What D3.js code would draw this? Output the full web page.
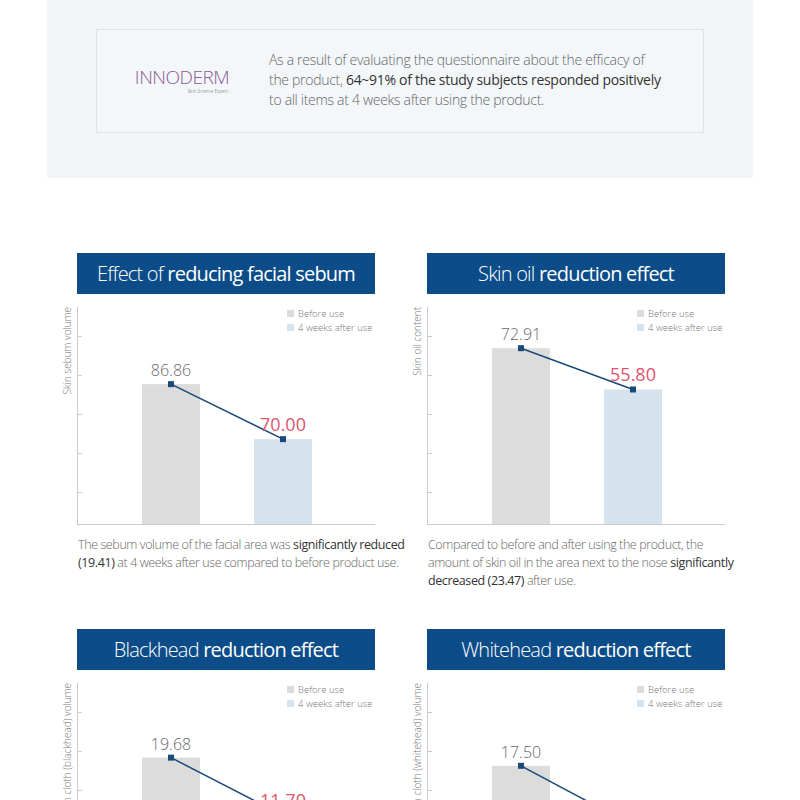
<!DOCTYPE html>
<html><head><meta charset="utf-8">
<script src="https://cdn.jsdelivr.net/npm/d3@7"></script>
<style>body{margin:0;background:#fff;font-family:"Open Sans","Noto Sans",sans-serif}</style>
</head><body><svg id="page" width="800" height="800"></svg>
<script>
// chart data
const titlesLight = ["Effect of ", "Skin oil ", "Blackhead ", "Whitehead "];
const titlesBold = ["reducing facial sebum", "reduction effect", "reduction effect", "reduction effect"];
const yLabels = ["Skin sebum volume", "Skin oil content", "Skin cloth (blackhead) volume", "Skin cloth (whitehead) volume"];
const beforeVals = [86.86, 72.91, 19.68, 17.50];
const afterVals = [70.00, 55.80, 11.70, 9.70];
const domains = [[44, 110.5], [0, 90], [0, 30], [0, 28.3]];
const seriesNames = ["Before use", "4 weeks after use"];

const svg = d3.select("#page");

// top summary panel
svg.append("rect").attr("x", 47).attr("y", 0).attr("width", 706).attr("height", 178).attr("fill", "#f3f6f9");
svg.append("rect").attr("x", 96.5).attr("y", 29.5).attr("width", 607).attr("height", 103)
  .attr("fill", "#f3f7fa").attr("stroke", "#dde3e8");
svg.append("text").attr("x", 182).attr("y", 84).attr("text-anchor", "middle")
  .attr("font-size", 19).attr("font-weight", 300).attr("fill", "#8a5a93").attr("letter-spacing", -0.5)
  .text("INNODERM");
svg.append("text").attr("x", 228).attr("y", 93).attr("text-anchor", "end")
  .attr("font-size", 4.5).attr("fill", "#999").text("Skin Science Expert");
const sumLines = [
  [["As a result of evaluating the questionnaire about the efficacy of", 0]],
  [["the product, ", 0], ["64~91% of the study subjects responded positively", 1]],
  [["to all items at 4 weeks after using the product.", 0]]
];
sumLines.forEach((ln, i) => {
  const t = svg.append("text").attr("x", 269).attr("y", 65 + i * 20).attr("font-size", 14).attr("letter-spacing", -0.3);
  ln.forEach(([s, b]) => t.append("tspan").text(s).attr("fill", b ? "#333" : "#666").attr("font-weight", b ? 500 : 300));
});

const captions = [
  [[["The sebum volume of the facial area was ", 0], ["significantly reduced", 1]],
   [["(19.41)", 1], [" at 4 weeks after use compared to before product use.", 0]]],
  [[["Compared to before and after using the product, the", 0]],
   [["amount of skin oil in the area next to the nose ", 0], ["significantly", 1]],
   [["decreased (23.47)", 1], [" after use.", 0]]],
  [], []
];

const colors = ["#dcdcdc", "#d4e3ee"];

titlesLight.forEach((tl, i) => {
  const ox = i % 2 ? 427 : 77, oy = i < 2 ? 253 : 629;
  const g = svg.append("g").attr("transform", `translate(${ox},${oy})`);
  const w = 298;
  g.append("rect").attr("width", w).attr("height", 41).attr("fill", "#0c4d89");
  const tt = g.append("text").attr("x", w / 2).attr("y", 28).attr("text-anchor", "middle")
    .attr("font-size", 20).attr("fill", "#fff").attr("letter-spacing", -0.8);
  tt.append("tspan").text(tl).attr("font-weight", 300);
  tt.append("tspan").text(titlesBold[i]).attr("font-weight", 500);

  const top = 54, base = 271;
  const y = d3.scaleLinear().domain(domains[i]).range([base, top]);

  // axis
  g.append("line").attr("x1", 0.5).attr("x2", 0.5).attr("y1", top).attr("y2", base).attr("stroke", "#ccc");
  g.append("line").attr("x1", 0).attr("x2", w).attr("y1", base + 0.5).attr("y2", base + 0.5).attr("stroke", "#ccc");
  d3.range(5).forEach(k => g.append("line").attr("x1", 0).attr("x2", 5)
    .attr("y1", base - 32 - 39 * k + 0.5).attr("y2", base - 32 - 39 * k + 0.5).attr("stroke", "#ccc"));
  g.append("text").attr("transform", `translate(-6,${top}) rotate(-90)`).attr("text-anchor", "end")
    .attr("font-size", 10).attr("fill", "#777").attr("font-weight", 300).text(yLabels[i]);

  const vals = [beforeVals[i], afterVals[i]];
  const bx = [65, 177], bw = 58;
  vals.forEach((v, k) => {
    g.append("rect").attr("x", bx[k]).attr("y", y(v)).attr("width", bw).attr("height", base - y(v)).attr("fill", colors[k]);
  });
  g.append("path").attr("d", d3.line()(vals.map((v, k) => [bx[k] + bw / 2, y(v)])))
    .attr("stroke", "#1b4a78").attr("stroke-width", 1.5).attr("fill", "none");
  vals.forEach((v, k) => g.append("rect").attr("x", bx[k] + bw / 2 - 3).attr("y", y(v) - 3)
    .attr("width", 6).attr("height", 6).attr("fill", "#1b4a78"));
  g.append("text").attr("x", bx[0] + bw / 2).attr("y", y(vals[0]) - 8).attr("text-anchor", "middle")
    .attr("font-size", 16).attr("fill", "#666").attr("font-weight", 300).text(vals[0].toFixed(2));
  g.append("text").attr("x", bx[1] + bw / 2).attr("y", y(vals[1]) - 8).attr("text-anchor", "middle")
    .attr("font-size", 18).attr("fill", "#e0546f").attr("font-weight", 500).text(vals[1].toFixed(2));

  // legend
  seriesNames.forEach((s, k) => {
    g.append("rect").attr("x", 210).attr("y", 57 + k * 14).attr("width", 7).attr("height", 7).attr("fill", colors[k]);
    g.append("text").attr("x", 221).attr("y", 64 + k * 14).attr("font-size", 9.5).attr("fill", "#777")
      .attr("font-weight", 300).text(s);
  });

  captions[i].forEach((ln, j) => {
    const t = g.append("text").attr("x", 1).attr("y", 296 + j * 18).attr("font-size", 12.5).attr("letter-spacing", -0.4);
    ln.forEach(([s, b]) => t.append("tspan").text(s).attr("fill", b ? "#333" : "#666").attr("font-weight", b ? 500 : 300));
  });
});
</script></body></html>
